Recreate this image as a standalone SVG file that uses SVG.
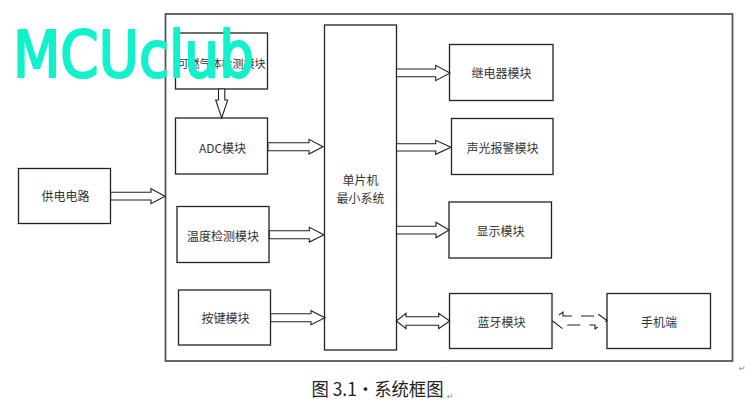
<svg xmlns="http://www.w3.org/2000/svg" width="745" height="408" viewBox="0 0 745 408">
<style>
.box{fill:#fff;stroke:#222;stroke-width:1.3}
.frame{fill:none;stroke:#555;stroke-width:1.8}
.arr{fill:#fff;stroke:#222;stroke-width:1.1;stroke-linejoin:miter}
.dash{fill:none;stroke:#222;stroke-width:1.1;stroke-dasharray:13 9}
.t{font-family:"Noto Sans CJK SC","Liberation Sans",sans-serif;font-size:12px;fill:#333;text-anchor:middle;dominant-baseline:central}
.cap{font-family:"Noto Sans CJK SC","Liberation Sans",sans-serif;font-size:18px;fill:#222}
.wm{font-family:"Comic Sans MS","DejaVu Sans",sans-serif;font-size:64px;fill:#10f2cc;stroke:#10f2cc;stroke-width:2.2;stroke-linejoin:round}
</style>
<rect width="745" height="408" fill="#fff"/>
<rect class="frame" x="165.5" y="14" width="567" height="347"/>
<g id="power"><rect class="box" x="18.5" y="168.5" width="92" height="55"/><text class="t" x="65.5" y="195.5">供电电路</text></g>
<g id="gas"><rect class="box" x="175.5" y="33" width="92" height="56"/><text class="t" x="221.5" y="63" style="font-size:11px">可燃气体检测模块</text></g>
<g id="adc"><rect class="box" x="175.5" y="118" width="92" height="56"/><text class="t" x="222.5" y="147.5">ADC模块</text></g>
<g id="temp"><rect class="box" x="177" y="206.5" width="92" height="56"/><text class="t" x="223" y="235.5">温度检测模块</text></g>
<g id="key"><rect class="box" x="178.5" y="290" width="92" height="55"/><text class="t" x="225.5" y="317.5">按键模块</text></g>
<g id="mcu"><rect class="box" x="324.5" y="25" width="72" height="325"/><text class="t" x="360.5" y="179">单片机</text><text class="t" x="360.5" y="197.5">最小系统</text></g>
<g id="relay"><rect class="box" x="449.5" y="44.5" width="103.5" height="56"/><text class="t" x="501.5" y="72.5">继电器模块</text></g>
<g id="alarm"><rect class="box" x="451.5" y="118.5" width="101.5" height="56"/><text class="t" x="502.5" y="147">声光报警模块</text></g>
<g id="display"><rect class="box" x="449" y="202" width="102.5" height="56"/><text class="t" x="500.5" y="230">显示模块</text></g>
<g id="bt"><rect class="box" x="449.5" y="293.5" width="102.5" height="55"/><text class="t" x="501.5" y="321.5">蓝牙模块</text></g>
<g id="phone"><rect class="box" x="607" y="293.5" width="103.5" height="55"/><text class="t" x="659" y="321.5">手机端</text></g>
<g id="connectors">
<path class="arr" d="M110.7,192.3H151V188.7L165,196.2L151,203.7V200H110.7Z"/>
<path class="arr" d="M218.5,89V100H215.7L221.7,118L227.7,100H224.8V89Z"/>
<path class="arr" d="M268,142.7H309V139.3L323,146.7L309,154V150.7H268Z"/>
<path class="arr" d="M269.3,230.7H309.3V227.3L324,234.7L309.3,242V238.7H269.3Z"/>
<path class="arr" d="M270.7,313.7H311V310.7L325,317.7L311,324.7V321.7H270.7Z"/>
<path class="arr" d="M396.5,69H435.7V65.3L450,73L435.7,80.7V76.7H396.5Z"/>
<path class="arr" d="M396.5,143.7H435.7V140.3L451,147.3L435.7,154.3V151H396.5Z"/>
<path class="arr" d="M396.5,226.3H436V222.3L449,230L436,237.7V234H396.5Z"/>
<path class="arr" d="M396.3,321L406,313.3V316.7H438.7V313.3L449.7,321L438.7,328.7V325.3H406V328.7Z"/>
<path class="dash" d="M563,312V316H595V312L607,320.5L595,329V325H563V329L552,320.5Z"/>
</g>
<text class="wm" x="13" y="77" textLength="241" lengthAdjust="spacingAndGlyphs">MCUclub</text>
<text class="cap" x="311.5" y="396" textLength="132" lengthAdjust="spacingAndGlyphs">图 3.1·系统框图</text>
<text x="447" y="399" style="font-family:'DejaVu Sans',sans-serif;font-size:8px;fill:#888">↵</text>
<text x="739" y="371" style="font-family:'DejaVu Sans',sans-serif;font-size:8px;fill:#888">↵</text>
</svg>
